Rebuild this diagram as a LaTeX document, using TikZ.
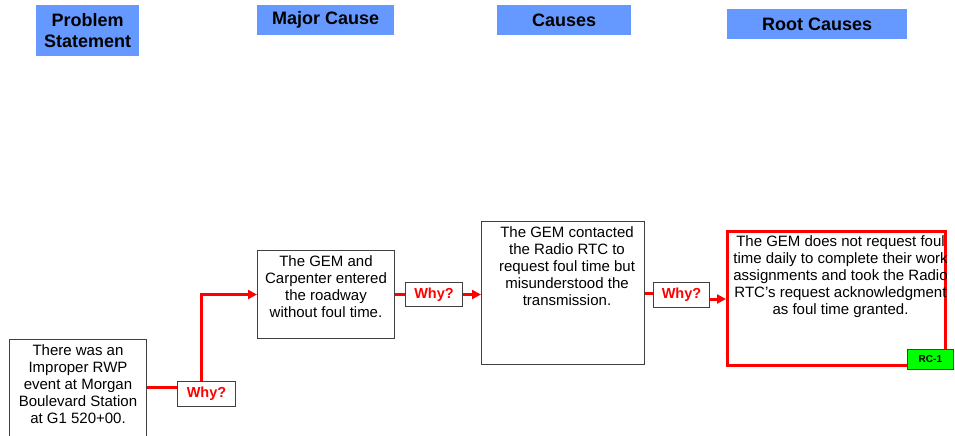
\documentclass[tikz,border=0pt]{standalone}
\usepackage{fontspec}
\setmainfont{Liberation Sans}
\usetikzlibrary{arrows.meta}

\definecolor{hdrblue}{HTML}{6699FF}
\definecolor{boxgray}{HTML}{404040}
\definecolor{rcgreen}{HTML}{00FF00}

\tikzset{
  header/.style={fill=hdrblue, anchor=north west, inner sep=0pt, align=center,
    font=\fontsize{18}{21}\selectfont\bfseries},
  causebox/.style={draw=boxgray, line width=1pt, anchor=north west, inner sep=0pt},
  boxtext/.style={anchor=north, align=center, inner sep=0pt, yshift=-5pt,
    font=\fontsize{15}{17}\selectfont},
  whybox/.style={draw=boxgray, line width=1pt, fill=white, text=red, anchor=north west,
    inner sep=0pt, font=\fontsize{14.5}{16}\selectfont\bfseries},
  whyline/.style={draw=red, line width=3pt},
  whyarrow/.style={whyline, -{Triangle[length=9pt,width=9pt]}}
}

\begin{document}
\begin{tikzpicture}[x=1pt,y=-1pt]
    % Fija el marco de la figura.
    \useasboundingbox (0,0) rectangle (955,436);

    % Dibuja los encabezados de las columnas.
    \node[header, minimum width=103pt, minimum height=51pt] (hprob) at (36,5) {Problem\\Statement};
    \node[header, minimum width=137pt, minimum height=30pt] (hmajor) at (257,5) {Major Cause};
    \node[header, minimum width=134pt, minimum height=30pt] (hcause) at (497,5) {Causes};
    \node[header, minimum width=180pt, minimum height=30pt] (hroot) at (727,9) {Root Causes};

    % Dibuja las cajas de cada causa.
    \node[causebox, minimum width=137pt, minimum height=110pt] (prob) at (9,339) {};
    \node[causebox, minimum width=137pt, minimum height=88pt] (gem) at (257,250) {};
    \node[causebox, minimum width=163pt, minimum height=143pt] (radio) at (481,221) {};
    \node[causebox, draw=red, line width=3pt, minimum width=218pt, minimum height=134pt] (root) at (726,230) {};

    % Escribe los textos de las cajas.
    \node[boxtext] (probtxt) at (prob.north) {There was an\\Improper RWP\\event at Morgan\\Boulevard Station\\at G1 520+00.};
    \node[boxtext] (gemtxt) at (gem.north) {The GEM and\\Carpenter entered\\the roadway\\without foul time.};
    \node[boxtext, xshift=4pt] (radiotxt) at (radio.north) {The GEM contacted\\the Radio RTC to\\request foul time but\\misunderstood the\\transmission.};
    \node[boxtext, xshift=4pt] (roottxt) at (root.north) {The GEM does not request foul\\time daily to complete their work\\assignments and took the Radio\\RTC’s request acknowledgment\\as foul time granted.};

    % Marca la causa raiz.
    \node[draw=boxgray, fill=rcgreen, line width=0.8pt, anchor=north west, inner sep=0pt,
      minimum width=46pt, minimum height=20pt, font=\fontsize{10}{11}\selectfont\bfseries] (rc) at (907,349) {RC-1};

    % Coloca las cajas de pregunta.
    \node[whybox, minimum width=58pt, minimum height=25pt] (why1) at (177,381) {Why?};
    \node[whybox, minimum width=57pt, minimum height=24pt] (why2) at (405,282) {Why?};
    \node[whybox, minimum width=56pt, minimum height=25pt] (why3) at (653,282) {Why?};

    % Une las cajas con las flechas rojas.
    \draw[whyline] ([yshift=7pt]prob.east) -- ([yshift=7pt]prob.east -| why1.west);
    \draw[whyarrow] ([xshift=-5pt]why1.north) |- (gem.west);
    \draw[whyline] (gem.east) -- (gem.east -| why2.west);
    \draw[whyarrow] (why2.east) -- (why2.east -| radio.west);
    \draw[whyline] (radio.east) -- (radio.east -| why3.west);
    \draw[whyarrow] ([yshift=-4pt]why3.east) -- ([yshift=-4pt]why3.east -| root.west);
\end{tikzpicture}
\end{document}
